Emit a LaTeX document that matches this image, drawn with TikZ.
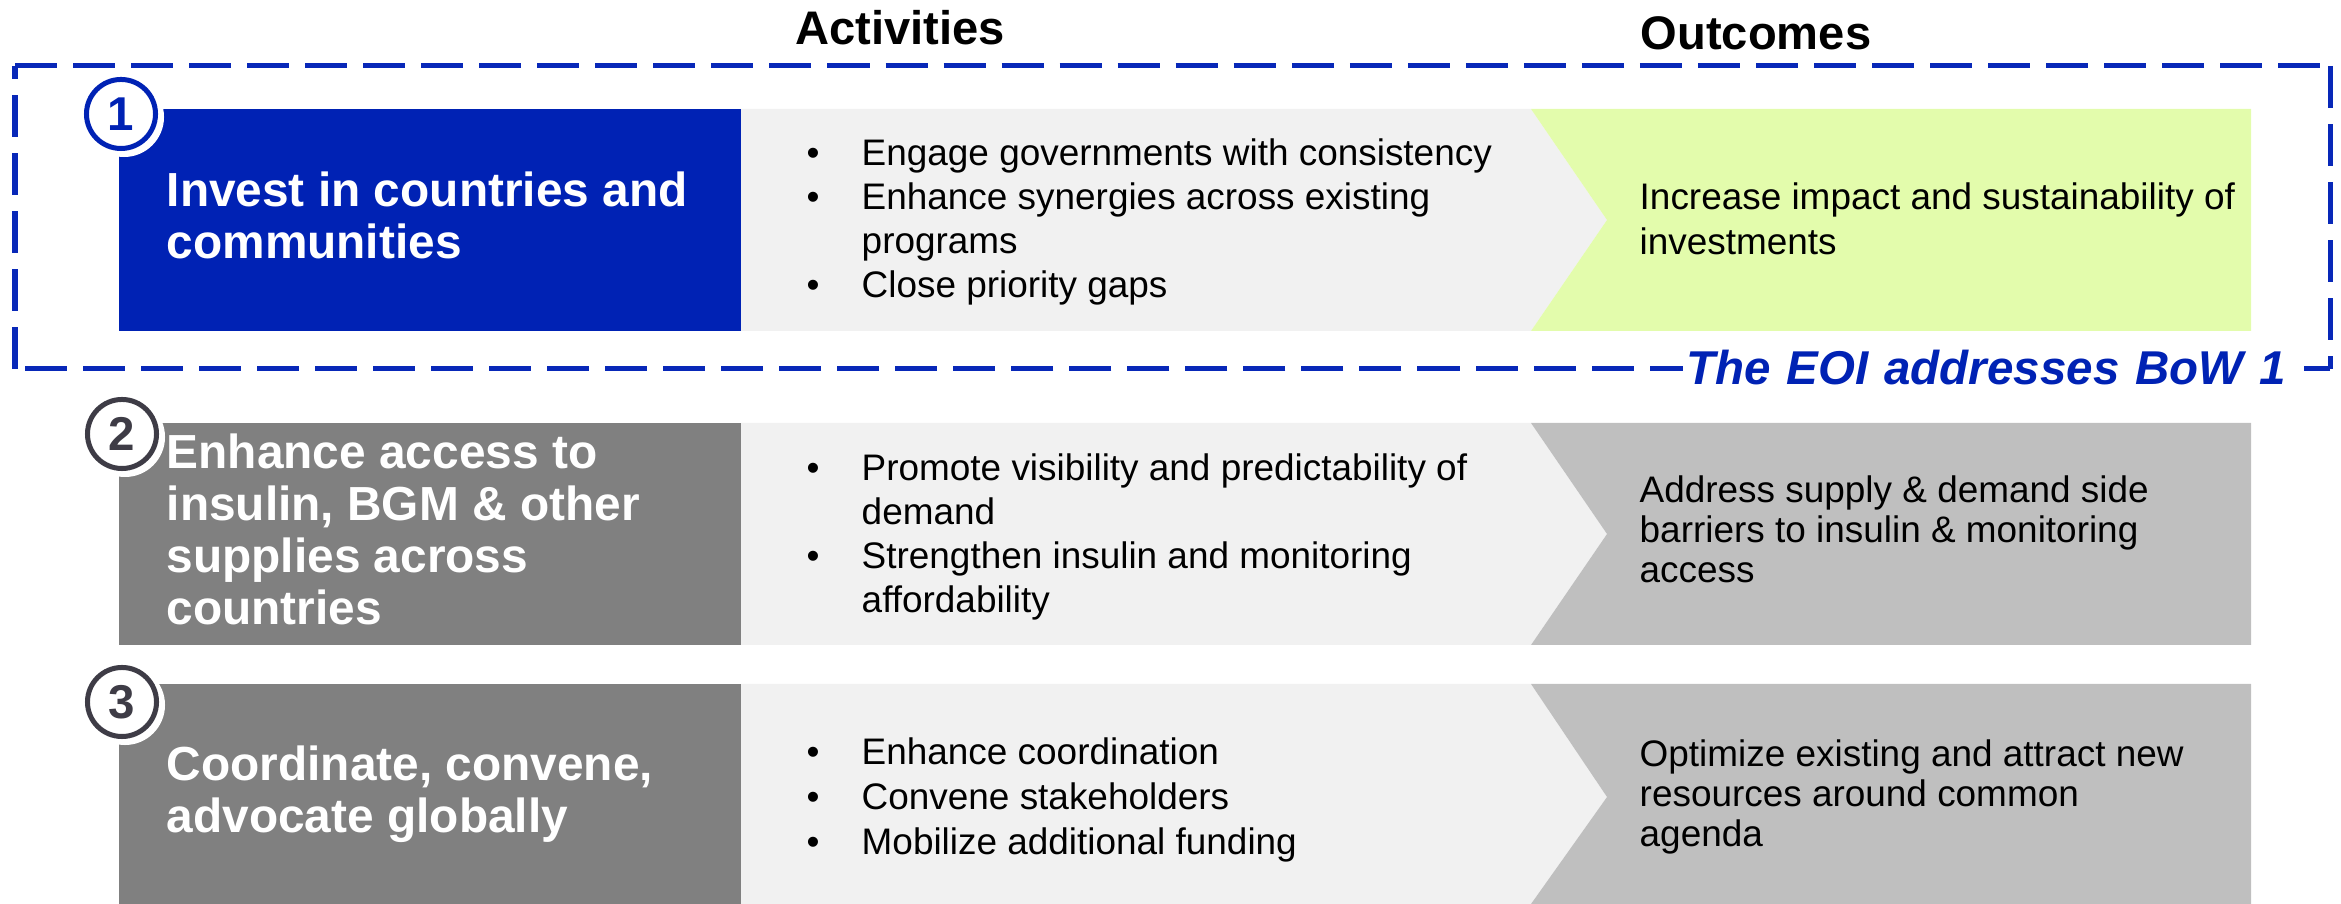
\documentclass[tikz,border=0pt]{standalone}
\usepackage{fontspec}
\setmainfont{Liberation Sans}
\definecolor{eoiblue}{RGB}{0,34,180}
\definecolor{dashblue}{RGB}{8,40,184}
\definecolor{darkbox}{RGB}{128,128,128}
\definecolor{lightbox}{RGB}{241,241,241}
\definecolor{greenbox}{RGB}{227,252,172}
\definecolor{outgrey}{RGB}{191,191,191}
\definecolor{circgrey}{RGB}{62,60,70}
\newcommand{\bul}{\makebox[0.55cm][l]{\textbullet}}
\newcommand{\ind}{\hspace*{0.55cm}}
\begin{document}
\begin{tikzpicture}[x=0.01cm,y=-0.01cm,
  titletext/.style={anchor=base west, inner sep=0pt, align=left, text=white,
    font=\fontsize{13.6}{14.8}\selectfont\bfseries},
  bodytext/.style={anchor=base west, inner sep=0pt, align=left,
    font=\fontsize{10.5}{12.6}\selectfont},
  outtext/.style={anchor=base west, inner sep=0pt, align=left,
    font=\fontsize{10.5}{11.4}\selectfont},
  headtext/.style={anchor=base, inner sep=0pt, font=\fontsize{13.4}{16}\selectfont\bfseries},
  numcircle/.style={circle, draw=#1, text=#1, line width=0.05cm, minimum size=0.69cm,
    inner sep=0pt, fill=white, font=\fontsize{13.5}{16}\selectfont\bfseries},
  halo/.style={circle, fill=white, minimum size=0.80cm, inner sep=0pt},
  frameline/.style={dashblue, line width=0.05cm, dash pattern=on 0.42cm off 0.16cm}
]
\useasboundingbox (0,0) rectangle (2341,904);

% headers
\node[headtext] (hact) at (900,45) {Activities};
\node[headtext] (hout) at (1756,50) {Outcomes};

% row 1
\fill[eoiblue] (119,109) rectangle (741,331);
\fill[lightbox] (741,109) -- (1531,109) -- (1607,220) -- (1531,331) -- (741,331) -- cycle;
\fill[greenbox] (1531,109) -- (2251,109) -- (2251,331) -- (1531,331) -- (1607,220) -- cycle;
\node[titletext] (t1) at (166,259) {Invest in countries and\\communities};
\node[bodytext] (a1) at (806,298) {\bul Engage governments with consistency\\
  \bul Enhance synergies across existing\\ \ind programs\\ \bul Close priority gaps};
\node[outtext, font=\fontsize{10.5}{12.8}\selectfont] (o1) at (1639,255) {Increase impact and sustainability of\\investments};

% row 2
\fill[darkbox] (119,423) rectangle (741,645);
\fill[lightbox] (741,423) -- (1531,423) -- (1607,534) -- (1531,645) -- (741,645) -- cycle;
\fill[outgrey] (1531,423) -- (2251,423) -- (2251,645) -- (1531,645) -- (1607,534) -- cycle;
\node[titletext] (t2) at (166,625) {Enhance access to\\insulin, BGM \& other\\supplies across\\countries};
\node[bodytext] (a2) at (806,613) {\bul Promote visibility and predictability of\\ \ind demand\\
  \bul Strengthen insulin and monitoring\\ \ind affordability};
\node[outtext] (o2) at (1639,583) {Address supply \& demand side\\barriers to insulin \& monitoring\\access};

% row 3
\fill[darkbox] (119,684) rectangle (741,904);
\fill[lightbox] (741,684) -- (1531,684) -- (1607,797) -- (1531,904) -- (741,904) -- cycle;
\fill[outgrey] (1531,684) -- (2251,684) -- (2251,904) -- (1531,904) -- (1607,797) -- cycle;
\node[titletext] (t3) at (166,833) {Coordinate, convene,\\advocate globally};
\node[bodytext, font=\fontsize{10.5}{12.8}\selectfont] (a3) at (806,855) {\bul Enhance coordination\\ \bul Convene stakeholders\\ \bul Mobilize additional funding};
\node[outtext] (o3) at (1639,847) {Optimize existing and attract new\\resources around common\\agenda};

% dashed frame
\coordinate (ftl) at (15,66);
\coordinate (ftr) at (2330,66);
\coordinate (fbr) at (2330,369);
\coordinate (fbl) at (15,369);
\draw[frameline] (ftl) -- (ftr);
\draw[frameline] (ftr) -- (fbr);
\draw[frameline] (fbr) -- (fbl);
\draw[frameline] (fbl) -- (ftl);
\node[anchor=base west, fill=white, inner xsep=0.04cm, inner ysep=0.06cm, text width=6.13cm, align=left,
  text=eoiblue, font=\fontsize{13.5}{16}\selectfont\bfseries\itshape] (eoi) at (1682,385) {The EOI addresses BoW 1};

% number circles
\node[halo] (h1) at (124,117) {};
\node[numcircle=eoiblue] (c1) at (121,114) {1};
\node[halo] (h2) at (125,437) {};
\node[numcircle=circgrey] (c2) at (122,434) {2};
\node[halo] (h3) at (125,705) {};
\node[numcircle=circgrey] (c3) at (122,702) {3};
\end{tikzpicture}
\end{document}
